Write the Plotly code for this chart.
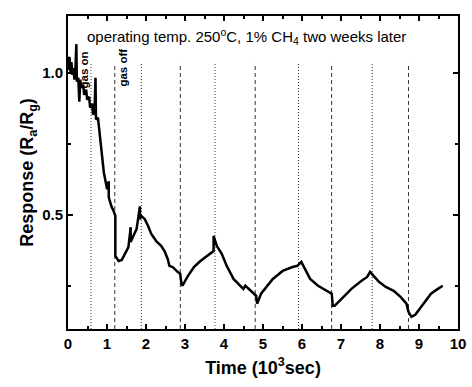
import plotly.graph_objects as go

# Response curve (time in 10^3 s, response Ra/Rg)
time = [0.0, 0.013, 0.038, 0.063, 0.088, 0.113, 0.139, 0.164, 0.189, 0.214, 0.227, 0.264, 0.290, 0.315,
        0.340, 0.390, 0.416, 0.466, 0.491, 0.542, 0.567, 0.617, 0.642, 0.680, 0.705, 0.718, 0.768, 0.793,
        0.819, 0.869, 0.919, 1.003, 1.045, 1.045, 1.113, 1.171, 1.214, 1.214, 1.297, 1.380, 1.466, 1.549,
        1.607, 1.607, 1.675, 1.758, 1.844, 1.844, 1.884, 1.970, 2.053, 2.136, 2.262, 2.388, 2.474, 2.557,
        2.600, 2.683, 2.809, 2.877, 2.909, 2.935, 3.060, 3.229, 3.395, 3.564, 3.733, 3.733, 3.816, 3.942,
        4.068, 4.244, 4.496, 4.547, 4.698, 4.824, 4.849, 4.950, 5.252, 5.504, 5.756, 5.882, 5.982, 6.083,
        6.209, 6.411, 6.637, 6.763, 6.788, 6.839, 7.015, 7.267, 7.519, 7.670, 7.746, 7.846, 7.972, 8.149,
        8.350, 8.526, 8.678, 8.728, 8.804, 8.904, 9.106, 9.307, 9.483, 9.610]
response = [1.010, 1.045, 1.056, 1.003, 1.038, 0.993, 1.017, 0.976, 1.010, 1.101, 0.969, 0.983, 0.899, 0.976,
            0.948, 0.958, 0.923, 0.941, 0.906, 0.916, 0.878, 0.892, 0.853, 0.864, 0.983, 0.836, 0.843, 0.808,
            0.766, 0.696, 0.650, 0.591, 0.619, 0.563, 0.531, 0.514, 0.497, 0.357, 0.339, 0.343, 0.364, 0.388,
            0.458, 0.406, 0.427, 0.451, 0.531, 0.486, 0.497, 0.486, 0.462, 0.434, 0.409, 0.392, 0.374, 0.346,
            0.322, 0.318, 0.301, 0.294, 0.259, 0.252, 0.283, 0.318, 0.339, 0.357, 0.374, 0.427, 0.392, 0.364,
            0.322, 0.276, 0.241, 0.252, 0.231, 0.217, 0.189, 0.224, 0.276, 0.304, 0.318, 0.322, 0.336, 0.311,
            0.276, 0.252, 0.234, 0.224, 0.182, 0.182, 0.206, 0.241, 0.269, 0.283, 0.301, 0.287, 0.266, 0.248,
            0.234, 0.213, 0.189, 0.161, 0.143, 0.150, 0.189, 0.224, 0.241, 0.252]

gas_on_times = [0.59, 1.88, 3.77, 5.91, 7.80]
gas_off_times = [1.20, 2.88, 4.80, 6.76, 8.73]
event_line_top = 1.035

x_ticks = [0, 1, 2, 3, 4, 5, 6, 7, 8, 9, 10]
y_ticks = [0.5, 1.0]
y_tick_labels = ["0.5", "1.0"]

FONT = "Liberation Sans, Arial, sans-serif"

fig = go.Figure()
fig.add_trace(go.Scatter(x=time, y=response, mode="lines",
                         line=dict(color="black", width=2.5), showlegend=False))

shapes = []
for t in gas_on_times:
    shapes.append(dict(type="line", xref="x", yref="y", x0=t, x1=t, y0=0.1, y1=event_line_top,
                       line=dict(color="#333333", width=1, dash="1px,2px"), layer="below"))
for t in gas_off_times:
    shapes.append(dict(type="line", xref="x", yref="y", x0=t, x1=t, y0=0.1, y1=event_line_top,
                       line=dict(color="#333333", width=1, dash="4px,3px"), layer="below"))

annotations = [
    dict(x=0.44, y=1.128, xref="x", yref="y", xanchor="left", yanchor="middle",
         text="operating temp. 250<sup>o</sup>C, 1% CH<sub>4</sub> two weeks later",
         showarrow=False, font=dict(family=FONT, size=15, color="black")),
    dict(x=0.42, y=1.01, xref="x", yref="y", text="<b>gas on</b>", textangle=-90,
         showarrow=False, font=dict(family=FONT, size=11.5, color="black")),
    dict(x=1.42, y=1.02, xref="x", yref="y", text="<b>gas off</b>", textangle=-90,
         showarrow=False, font=dict(family=FONT, size=11.5, color="black")),
]

axis_common = dict(showline=True, linecolor="black", linewidth=2, mirror="ticks",
                   ticks="inside", ticklen=5, tickwidth=1.5, tickcolor="black",
                   showgrid=False, zeroline=False, ticklabeloverflow="allow",
                   tickfont=dict(family=FONT, size=15, color="black"))

fig.update_layout(
    width=472, height=387,
    margin=dict(l=68, r=6, t=16, b=58),
    paper_bgcolor="white", plot_bgcolor="white",
    shapes=shapes, annotations=annotations,
    xaxis=dict(range=[0, 10], tickvals=x_ticks, ticktext=["<b>%d</b>" % v for v in x_ticks],
               minor=dict(dtick=0.5, tick0=0, ticks="inside", ticklen=3, tickcolor="black"),
               title=dict(text="<b>Time (10<sup>3</sup>sec)</b>", standoff=10,
                          font=dict(family=FONT, size=18, color="black")),
               **axis_common),
    yaxis=dict(range=[0.1, 1.2], tickvals=y_ticks, ticktext=["<b>%s</b>" % s for s in y_tick_labels],
               minor=dict(dtick=0.25, tick0=0, ticks="inside", ticklen=3, tickcolor="black"),
               title=dict(text="<b>Response (R<sub>a</sub>/R<sub>g</sub>)</b>", standoff=4,
                          font=dict(family=FONT, size=18, color="black")),
               **axis_common),
)

fig.write_html("out.html")
